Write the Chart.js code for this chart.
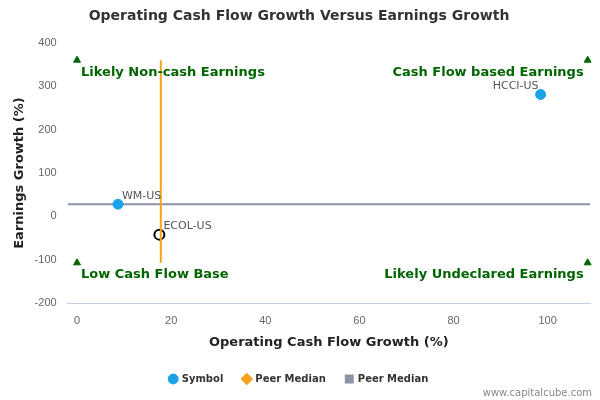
<!DOCTYPE html>
<html><head><meta charset="utf-8">
<script src="https://cdn.jsdelivr.net/npm/chart.js@4"></script>
<style>body{margin:0;background:#fff}#w{width:600px;height:400px;position:relative}</style>
</head><body><div id="w"><canvas id="c"></canvas></div>
<script>
const symbols = ["WM-US", "HCCI-US"];
const symX = [8.7, 98.5];
const symY = [28, 281];
const focus = {name: "ECOL-US", x: 17.5, y: -42};
const peerMedianX = 17.8;
const peerMedianY = 28;
const vLineY = [-107, 360];
const hLineX = [-2, 109];
const quadrants = [
  {text: "Likely Non-cash Earnings", x: 0, y: 360, align: "left"},
  {text: "Cash Flow based Earnings", x: 108.5, y: 360, align: "right"},
  {text: "Low Cash Flow Base", x: 0, y: -107, align: "left"},
  {text: "Likely Undeclared Earnings", x: 108.5, y: -107, align: "right"}
];
const xTicks = [0, 20, 40, 60, 80, 100];
const yTicks = [-200, -100, 0, 100, 200, 300, 400];

const labelPlugin = {
  id: "lbl",
  afterDatasetsDraw(chart) {
    const {ctx, scales: {x, y}} = chart;
    ctx.save();
    ctx.font = "11px 'DejaVu Sans', sans-serif";
    ctx.fillStyle = "#555";
    ctx.textAlign = "left"; ctx.textBaseline = "bottom";
    ctx.fillText(symbols[0], x.getPixelForValue(symX[0]) + 4, y.getPixelForValue(symY[0]) - 3);
    ctx.textAlign = "right";
    ctx.fillText(symbols[1], x.getPixelForValue(symX[1]) - 2, y.getPixelForValue(symY[1]) - 3);
    ctx.textAlign = "left";
    ctx.fillText(focus.name, x.getPixelForValue(focus.x) + 4, y.getPixelForValue(focus.y) - 3);
    ctx.font = "bold 13px 'DejaVu Sans', sans-serif";
    ctx.fillStyle = "#006400";
    ctx.textBaseline = "middle";
    quadrants.forEach(q => {
      ctx.textAlign = q.align;
      const px = x.getPixelForValue(q.x) + (q.align === "left" ? 4 : -4);
      ctx.fillText(q.text, px, y.getPixelForValue(q.y) + 12);
    });
    ctx.restore();
    ctx.font = "10px 'DejaVu Sans', sans-serif";
    ctx.fillStyle = "#888"; ctx.textAlign = "right"; ctx.textBaseline = "alphabetic";
    ctx.fillText("www.capitalcube.com", 592, 396);
  }
};

new Chart(document.getElementById("c"), {
  type: "scatter",
  data: {datasets: [
    {label: "Symbol", data: symX.map((v, i) => ({x: v, y: symY[i]})), backgroundColor: "#1aa3e8", borderColor: "#1aa3e8", pointRadius: 5, pointHoverRadius: 5},
    {label: "Peer Median", type: "line", data: vLineY.map(v => ({x: peerMedianX, y: v})), borderColor: "#f7a21b", backgroundColor: "#f7a21b", borderWidth: 2, pointRadius: 0, pointStyle: "rectRot"},
    {label: "Peer Median", type: "line", data: hLineX.map(v => ({x: v, y: peerMedianY})), borderColor: "#8d93a8", backgroundColor: "#8d93a8", borderWidth: 2, pointRadius: 0, pointStyle: "rect"},
    {label: "focus", data: [{x: focus.x, y: focus.y}], backgroundColor: "rgba(0,0,0,0)", borderColor: "#000", borderWidth: 2, pointRadius: 5},
    {label: "quad", data: quadrants.map(q => ({x: q.x, y: q.y})), pointStyle: "triangle", backgroundColor: "#006400", borderColor: "#006400", pointRadius: 4, clip: false}
  ]},
  options: {
    responsive: true, maintainAspectRatio: false, animation: false,
    layout: {padding: {left: 8, right: 10, top: 0, bottom: 6}},
    plugins: {
      title: {display: true, text: "Operating Cash Flow Growth Versus Earnings Growth", color: "#333", font: {size: 14, weight: "bold", family: "'DejaVu Sans', sans-serif"}, padding: {top: 8, bottom: 18}},
      legend: {position: "bottom", labels: {filter: i => i.datasetIndex < 3, usePointStyle: true, boxWidth: 7, boxHeight: 7, color: "#333", font: {size: 10, weight: "bold", family: "'DejaVu Sans', sans-serif"}, padding: 20,
        generateLabels(chart) {
          const items = Chart.defaults.plugins.legend.labels.generateLabels(chart);
          items[0].pointStyle = "circle"; items[1].pointStyle = "rectRot"; items[2].pointStyle = "rect";
          return items;
        }}},
      tooltip: {enabled: false}
    },
    scales: {
      x: {min: -2, max: 109, afterBuildTicks: a => { a.ticks = xTicks.map(v => ({value: v})); },
        grid: {display: false, drawTicks: true}, border: {color: "#c0d0e0"},
        ticks: {color: "#666", font: {size: 11}},
        title: {display: true, text: "Operating Cash Flow Growth (%)", color: "#222", font: {size: 13, weight: "bold", family: "'DejaVu Sans', sans-serif"}}},
      y: {min: -200, max: 400, afterBuildTicks: a => { a.ticks = yTicks.map(v => ({value: v})); },
        grid: {display: false}, border: {display: false},
        ticks: {color: "#666", font: {size: 11}},
        title: {display: true, text: "Earnings Growth (%)", color: "#222", font: {size: 13, weight: "bold", family: "'DejaVu Sans', sans-serif"}}}
    }
  },
  plugins: [labelPlugin]
});
</script></body></html>
